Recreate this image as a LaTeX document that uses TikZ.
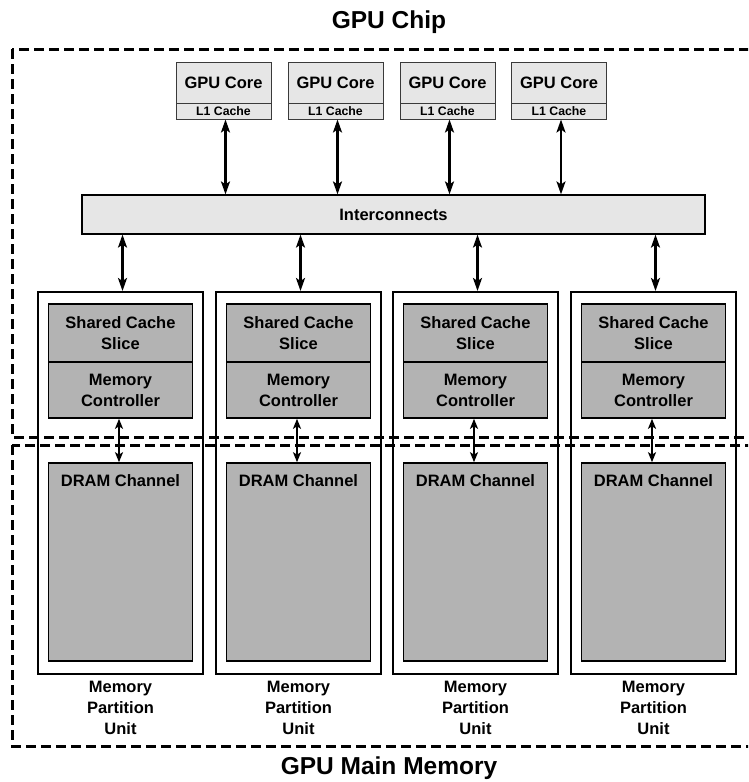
\documentclass[tikz,border=0pt]{standalone}
\usepackage{fontspec}
\setmainfont{Liberation Sans}
\usetikzlibrary{arrows.meta}
\definecolor{lightbox}{HTML}{E6E6E6}
\definecolor{darkbox}{HTML}{B3B3B3}
\definecolor{coreedge}{HTML}{3A3A3A}
\begin{document}
\begin{tikzpicture}[x=1pt,y=-1pt,
  every node/.style={font=\bfseries, inner sep=0pt},
  corebox/.style={draw=coreedge, line width=1pt, fill=lightbox, minimum width=95pt, minimum height=41pt, font=\fontsize{16.5}{19}\bfseries\selectfont},
  l1box/.style={draw=coreedge, line width=1pt, fill=lightbox, minimum width=95pt, minimum height=16pt, font=\fontsize{12.3}{14}\bfseries\selectfont},
  icbox/.style={draw=black, line width=1.2pt, fill=lightbox, minimum width=623pt, minimum height=39pt, font=\fontsize{16.5}{19}\bfseries\selectfont},
  partbox/.style={draw=black, line width=2pt, minimum width=165pt, minimum height=382pt},
  innerbox/.style={draw=black, line width=1.6pt, fill=darkbox, minimum width=144pt, align=center, font=\fontsize{16.5}{21}\bfseries\selectfont},
  dashbox/.style={draw=black, line width=3pt, dash pattern=on 10pt off 5pt},
  link/.style={line width=2.2pt, {Stealth[length=13pt,width=9pt,inset=3pt]}-{Stealth[length=13pt,width=9pt,inset=3pt]}},
  shortlink/.style={line width=2pt, {Stealth[length=10pt,width=8pt,inset=2.5pt]}-{Stealth[length=10pt,width=8pt,inset=2.5pt]}},
  partlabel/.style={align=center, font=\fontsize{16.5}{21}\bfseries\selectfont},
  title/.style={font=\fontsize{24.5}{28}\bfseries\selectfont}
]
\useasboundingbox (0,0) rectangle (748,782);
\clip (0,0) rectangle (748,782);

% titles
\node[title] (chiptitle) at (389,22) {GPU Chip};
\node[title] (memtitle) at (389,768) {GPU Main Memory};

% dashed regions
\draw[dashbox] (12,49) rectangle (765,437);
\draw[dashbox] (12,445) rectangle (765,746);

% cores
\foreach \i/\cx in {1/223.5,2/335.5,3/447.5,4/559} {
  \node[corebox] (core\i) at (\cx,82.5) {GPU Core};
  \node[l1box] (l1\i) at (\cx,111) {L1 Cache};
}

% interconnect
\node[icbox] (ic) at (393.5,214.5) {Interconnects};

% arrows core <-> interconnect
\foreach \i in {1,...,4} {
  \draw[link] ([xshift=2pt]l1\i.south) -- ([xshift=2pt]l1\i.south |- ic.north);
}

% partitions
\foreach \i/\cx in {1/120.5,2/298.5,3/475.5,4/653.5} {
  \node[partbox] (part\i) at (\cx,483) {};
  \node[innerbox, minimum height=58pt] (sc\i) at (\cx,333) {Shared Cache\\Slice};
  \node[innerbox, minimum height=56pt] (mc\i) at (\cx,390) {Memory\\Controller};
  \node[innerbox, minimum height=198pt] (dram\i) at (\cx,562) {};
  \node[font=\fontsize{16.5}{19}\bfseries\selectfont] (dramt\i) at (\cx,481) {DRAM Channel};
  \node[partlabel] (pl\i) at (\cx,708) {Memory\\Partition\\Unit};
  \draw[link] ([xshift=2pt]part\i.north |- ic.south) -- ([xshift=2pt]part\i.north);
  \draw[shortlink] ([xshift=-1.5pt]mc\i.south) -- ([xshift=-1.5pt]dram\i.north);
}
\end{tikzpicture}
\end{document}
